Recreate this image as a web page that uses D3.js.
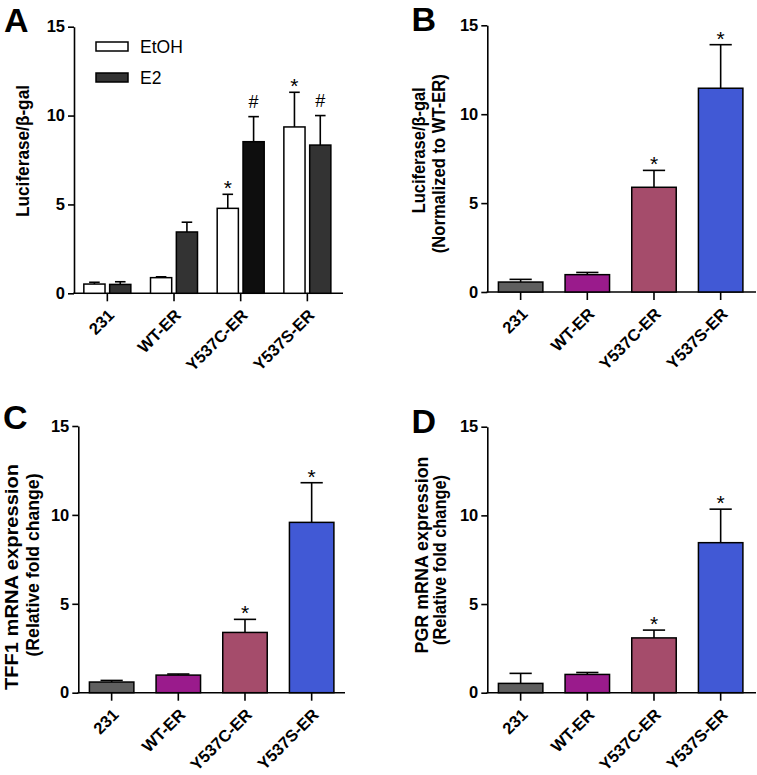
<!DOCTYPE html>
<html>
<head>
<meta charset="utf-8">
<script src="https://cdn.jsdelivr.net/npm/d3@7/dist/d3.min.js"></script>
<style>
  html, body { margin: 0; padding: 0; background: #fff; }
  svg { display: block; }
  text { font-family: "Liberation Sans", Arial, Helvetica, sans-serif; }
</style>
</head>
<body>
<svg id="chart" width="757" height="775"></svg>
<script>
// ---------------- DATA ----------------
const categories = ["231", "WT-ER", "Y537C-ER", "Y537S-ER"];
const yTicks = [0, 5, 10, 15];

// Panel A (grouped: EtOH vs E2)
const seriesA = ["EtOH", "E2"];
const aEtOH    = [0.52, 0.88, 4.78, 9.36];
const aEtOHErr = [0.10, 0.05, 0.79, 1.95];
const aE2      = [0.50, 3.45, 8.53, 8.34];
const aE2Err   = [0.15, 0.55, 1.41, 1.66];
const aEtOHSig = ["", "", "*", "*"];
const aE2Sig   = ["", "", "#", "#"];

// Panel B: Luciferase normalized to WT-ER
const bVals = [0.56, 0.975, 5.89, 11.46];
const bErr  = [0.15, 0.125, 0.95, 2.45];
const bSig  = ["", "", "*", "*"];

// Panel C: TFF1 mRNA
const cVals = [0.60, 0.99, 3.39, 9.58];
const cErr  = [0.09, 0.06, 0.735, 2.23];
const cSig  = ["", "", "*", "*"];

// Panel D: PGR mRNA
const dVals = [0.525, 1.03, 3.09, 8.46];
const dErr  = [0.565, 0.11, 0.44, 1.89];
const dSig  = ["", "", "*", "*"];

// ---------------- STYLE ----------------
const catColors = ["#5f5f5f", "#9a1b8c", "#a54c6b", "#4159d5"];
const etohFill = "#ffffff";
const e2Fills = ["#333333", "#333333", "#0e0e0e", "#333333"];
const FONT_TICK = 16.5, FONT_XLAB = 16.5;

const svg = d3.select("#chart");

function panelFrame(p) {
  const g = svg.append("g");
  const y = d3.scaleLinear().domain([0, 15]).range([p.bottom, p.top]);
  const x = d3.scaleBand().domain(categories).range([p.left, p.left + 266.7]).padding(0);

  // y axis
  const ya = g.append("g").attr("transform", `translate(${p.left},0)`)
    .call(d3.axisLeft(y).tickValues(yTicks).tickSize(6).tickSizeOuter(0).tickPadding(3));
  ya.attr("font-size", null).attr("font-family", null);
  ya.select(".domain").attr("stroke", "#000").attr("stroke-width", 1.6);
  ya.selectAll(".tick line").attr("stroke", "#000").attr("stroke-width", 1.6);
  ya.selectAll(".tick text").style("font-size", FONT_TICK + "px").style("font-weight", "bold")
    .attr("fill", "#000").style("font-family", '"Liberation Sans", Arial, sans-serif');

  // x axis
  const xa = g.append("g").attr("transform", `translate(0,${p.bottom})`)
    .call(d3.axisBottom(x).tickSize(8).tickSizeOuter(0));
  xa.attr("font-size", null).attr("font-family", null);
  xa.select(".domain").remove();
  xa.selectAll(".tick line").attr("stroke", "#000").attr("stroke-width", 1.6);
  xa.selectAll(".tick text")
    .style("font-size", FONT_XLAB + "px").style("font-weight", "bold").attr("fill", "#000")
    .style("font-family", '"Liberation Sans", Arial, sans-serif')
    .attr("text-anchor", "end").attr("y", 0).attr("dy", 0)
    .attr("transform", "translate(8,23) rotate(-45)");
  g.append("line").attr("x1", p.left - 0.8).attr("x2", p.right)
    .attr("y1", p.bottom).attr("y2", p.bottom)
    .attr("stroke", "#000").attr("stroke-width", 1.6);

  // panel letter
  g.append("text").attr("x", p.letterX).attr("y", p.letterY)
    .style("font-size", "34px").style("font-weight", "bold").text(p.letter);

  // y labels
  p.ylabels.forEach(l => {
    g.append("text")
      .attr("transform", `translate(${l.x},${l.cy}) rotate(-90)`)
      .attr("text-anchor", "middle").style("font-size", "18px").style("font-weight", "bold")
      .attr("textLength", l.len).attr("lengthAdjust", "spacingAndGlyphs")
      .text(l.t);
  });
  return {g, x, y};
}

function drawBars(g, xc, bw, y, vals, errs, sigs, fills) {
  const cap = bw / 2;
  vals.forEach((v, i) => {
    const cx = xc(i);
    const top = y(v + errs[i]);
    g.append("line").attr("x1", cx).attr("x2", cx).attr("y1", y(v)).attr("y2", top)
      .attr("stroke", "#000").attr("stroke-width", 1.6);
    g.append("line").attr("x1", cx - cap / 2).attr("x2", cx + cap / 2).attr("y1", top).attr("y2", top)
      .attr("stroke", "#000").attr("stroke-width", 1.6);
    g.append("rect").attr("x", cx - bw / 2).attr("y", y(v)).attr("width", bw)
      .attr("height", y(0) - y(v)).attr("fill", fills[i])
      .attr("stroke", "#000").attr("stroke-width", 1.5);
    const s = sigs[i];
    if (s) {
      g.append("text").attr("x", cx).attr("y", s === "#" ? top - 8.5 : top + 1)
        .attr("text-anchor", "middle").style("font-size", s === "#" ? "18px" : "21px").text(s);
    }
  });
}

// ---------------- PANEL A ----------------
{
  const p = {left: 74, top: 26.7, bottom: 293.3, right: 343, letter: "A", letterX: 4, letterY: 31.7,
    ylabels: [{t: "Luciferase/β-gal", x: 28.5, cy: 151, len: 132}]};
  const {g, x, y} = panelFrame(p);
  const sub = d3.scaleBand().domain(seriesA).range([-23.5, 23.5]).paddingInner(0.18).paddingOuter(0);
  const bw = sub.bandwidth();
  const center = i => x(categories[i]) + x.bandwidth() / 2;
  drawBars(g, i => center(i) + sub("EtOH") + bw / 2, bw, y, aEtOH, aEtOHErr, aEtOHSig, categories.map(() => etohFill));
  drawBars(g, i => center(i) + sub("E2") + bw / 2, bw, y, aE2, aE2Err, aE2Sig, e2Fills);

  // legend
  const leg = g.append("g");
  seriesA.forEach((s, i) => {
    leg.append("rect").attr("x", 96).attr("y", 42 + i * 31).attr("width", 32).attr("height", 9)
      .attr("fill", i === 0 ? etohFill : "#333333").attr("stroke", "#000").attr("stroke-width", 1.5);
    leg.append("text").attr("x", 140).attr("y", 52.7 + i * 30.8).style("font-size", "17.5px").text(s);
  });
}

// ---------------- PANELS B, C, D ----------------
function simplePanel(p, vals, errs, sigs) {
  const {g, x, y} = panelFrame(p);
  const bw = x.bandwidth() * 0.667;
  drawBars(g, i => x(categories[i]) + x.bandwidth() / 2, bw, y, vals, errs, sigs, catColors);
}

simplePanel({left: 487.3, top: 25.3, bottom: 292, right: 756, letter: "B", letterX: 411.5, letterY: 30.7,
  ylabels: [{t: "Luciferase/β-gal", x: 425, cy: 150.3, len: 126},
            {t: "(Normalized to WT-ER)", x: 445, cy: 163.7, len: 179}]}, bVals, bErr, bSig);

simplePanel({left: 78.3, top: 426, bottom: 692.7, right: 345, letter: "C", letterX: 3, letterY: 428.5,
  ylabels: [{t: "TFF1 mRNA expression", x: 17.5, cy: 577, len: 226},
            {t: "(Relative fold change)", x: 38.5, cy: 565, len: 183}]}, cVals, cErr, cSig);

simplePanel({left: 487.3, top: 426.7, bottom: 692.7, right: 756, letter: "D", letterX: 411.5, letterY: 432.5,
  ylabels: [{t: "PGR mRNA expression", x: 428, cy: 555, len: 197},
            {t: "(Relative fold change)", x: 446, cy: 560, len: 170}]}, dVals, dErr, dSig);
</script>
</body>
</html>
